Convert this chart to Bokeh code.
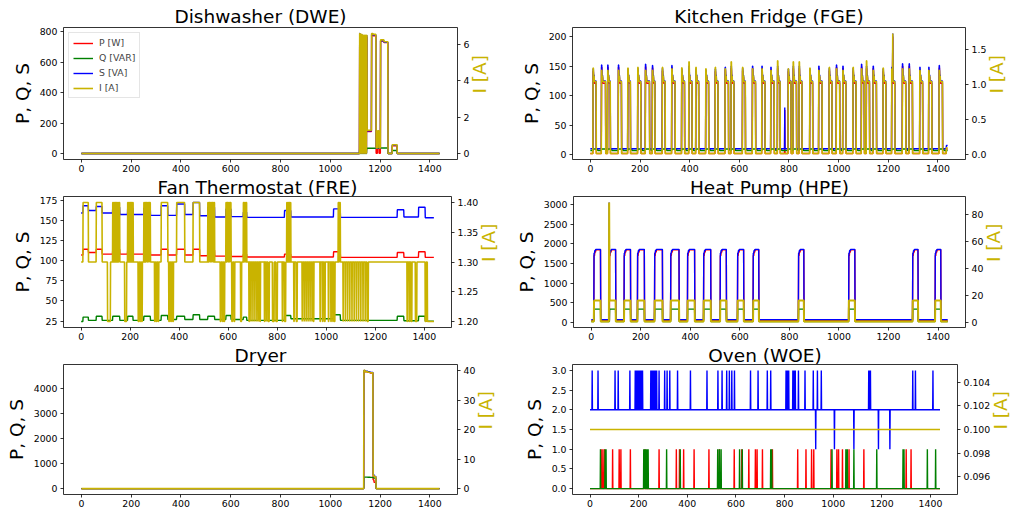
import math
import numpy as np
from bokeh.plotting import figure
from bokeh.models import (Range1d, LinearAxis, FixedTicker, PrintfTickFormatter,
                          Legend, LegendItem)
from bokeh.layouts import column, row
from bokeh.embed import file_html
from bokeh.resources import INLINE

# ------------------------------------------------------------------ data
N_MIN = 1440
MINUTES = np.arange(N_MIN)
X_TICKS = [0, 200, 400, 600, 800, 1000, 1200, 1400]
SERIES_LABELS = ["P [W]", "Q [VAR]", "S [VA]", "I [A]"]

# Dishwasher (DWE): change points
DWE_T = [0, 1118, 1120, 1122, 1124, 1126, 1128, 1130, 1132, 1134, 1136, 1138, 1140,
         1142, 1144, 1146, 1148, 1166, 1172, 1184, 1190, 1196, 1202, 1216, 1232, 1249, 1269]
DWE_P = [0, 775, 2, 770, 2, 770, 2, 765, 2, 765, 2, 765, 2, 765, 2, 765, 145, 780, 775,
         2, 140, 2, 740, 730, 0, 50, 0]
DWE_Q = [0, 30, 0, 30, 0, 30, 0, 30, 0, 30, 0, 30, 0, 30, 0, 30, 35, 35, 35, 35, 35, 35,
         36, 36, 0, 20, 0]
DWE_S = [0, 790, 2, 782, 2, 782, 2, 776, 2, 776, 2, 776, 2, 776, 2, 776, 150, 785, 780,
         35, 145, 35, 742, 732, 0, 55, 0]
DWE_I = [0.0, 6.6, 0.02, 6.55, 0.02, 6.55, 0.02, 6.5, 0.02, 6.5, 0.02, 6.5, 0.02, 6.5,
         0.02, 6.5, 1.28, 6.6, 6.55, 0.3, 1.25, 0.3, 6.25, 6.15, 0.0, 0.48, 0.0]
DWE_LTICKS = [0, 200, 400, 600, 800]
DWE_RTICKS = [0, 2, 4, 6]

# Kitchen Fridge (FGE): compressor cycles
FGE_START = [11, 45, 70, 113, 151, 191, 222, 250, 290, 328, 368, 397, 425, 465, 503, 543,
             567, 613, 653, 691, 727, 754, 797, 817, 841, 884, 920, 962, 991, 1017, 1058,
             1092, 1112, 1139, 1179, 1214, 1257, 1284, 1327, 1363, 1405]
FGE_DUR = [13, 17, 11, 13, 11, 13, 17, 11, 12, 14, 12, 13, 12, 12, 12, 14, 12, 12, 13, 13,
           14, 11, 12, 14, 12, 12, 14, 12, 14, 13, 13, 12, 13, 14, 12, 13, 14, 14, 12, 13, 14]
FGE_S_PEAK = [145, 152, 152, 152, 145, 146, 153, 151, 146, 151, 145, 150, 145, 143, 145,
              148, 150, 146, 150, 150, 148, 150, 145, 150, 150, 145, 150, 146, 152, 150,
              146, 153, 150, 150, 145, 148, 154, 154, 148, 148, 151]
FGE_I_PEAK = [1.23, 1.2, 1.2, 1.2, 1.23, 1.24, 1.2, 1.2, 1.24, 1.22, 1.235, 1.32, 1.24, 1.22,
              1.24, 1.22, 1.32, 1.24, 1.22, 1.22, 1.2, 1.335, 1.22, 1.32, 1.32, 1.23, 1.2,
              1.24, 1.22, 1.2, 1.24, 1.22, 1.335, 1.2, 1.23, 1.22, 1.22, 1.22, 1.2, 1.2, 1.2]
FGE_S_MID = [135, 125]
FGE_P_MID = [131, 121]
FGE_I_MID = [1.12, 1.04]
FGE_OFF = {"P": 2.5, "Q": 7.5, "S": 10.5, "I": 0.02}
FGE_Q_ON = 10.0
FGE_EXTRA_T0 = [783, 1218, 1434]
FGE_EXTRA_T1 = [784, 1219, 1440]
FGE_EXTRA_S = [80, 205, 16]
FGE_EXTRA_P = [76, 200, 10]
FGE_EXTRA_I = [0.02, 1.72, 0.1]
FGE_LTICKS = [0, 50, 100, 150, 200]
FGE_RTICKS = [0.0, 0.5, 1.0, 1.5]

# Fan Thermostat (FRE): change points of P, Q, S
FRE_T = [0, 8, 30, 62, 86, 129, 158, 190, 212, 256, 283, 327, 354, 390, 423, 457, 484, 517,
         545, 591, 612, 662, 676, 830, 856, 1030, 1058, 1290, 1317, 1377, 1404]
FRE_S = [159, 168, 162, 167, 159, 166, 157, 165, 157, 165, 156, 168, 156, 170, 157, 172,
         155.5, 166, 154, 164, 154.5, 160, 153.5, 162, 154, 164, 153.5, 163, 154, 166, 153]
FRE_P = [107, 114, 110, 114, 108, 114, 108, 113, 108, 114, 107, 114, 107, 114, 107, 114,
         106, 113, 105.5, 112, 105, 108, 104.5, 108, 104.5, 111, 104, 110, 104, 111, 104]
FRE_Q = [24.5, 30, 26, 31, 26, 31, 26, 31, 26, 31, 26, 32, 27, 31, 27, 33, 27, 31, 27, 32,
         27, 30, 26, 32, 28, 33, 26, 31, 25.5, 31, 25]
FRE_I_STEPS = [
    (0, 1.3), (8, 1.4), (30, 1.3), (62, 1.4), (86, 1.3), (108, 1.2), (120, 1.3),
    (129, 1.4), (132, 1.3), (134, 1.4), (137, 1.3), (139, 1.4), (142, 1.3), (144, 1.4),
    (147, 1.3), (149, 1.4), (152, 1.3), (154, 1.4), (158, 1.3),
    (178, 1.2), (186, 1.3),
    (190, 1.4), (193, 1.3), (195, 1.4), (198, 1.3), (200, 1.4), (203, 1.3), (205, 1.4),
    (208, 1.3), (210, 1.4), (213, 1.3),
    (233, 1.2), (236, 1.3), (240, 1.2), (243, 1.3), (247, 1.2), (250, 1.3),
    (256, 1.4), (259, 1.3), (261, 1.4), (264, 1.3), (266, 1.4), (270, 1.3), (272, 1.4),
    (276, 1.3), (278, 1.4), (283, 1.3),
    (300, 1.2), (303, 1.3), (307, 1.2), (310, 1.3), (314, 1.2), (317, 1.3),
    (327, 1.4), (354, 1.3),
    (358, 1.2), (361, 1.3), (366, 1.2), (369, 1.3), (374, 1.2), (377, 1.3),
    (390, 1.4), (423, 1.3), (457, 1.4), (484, 1.3),
    (517, 1.4), (520, 1.3), (522, 1.4), (526, 1.3), (528, 1.4), (533, 1.3), (535, 1.4),
    (540, 1.3), (542, 1.4), (545, 1.3),
    (568, 1.2), (571, 1.3), (577, 1.2), (580, 1.3), (583, 1.2), (586, 1.3),
    (591, 1.4), (594, 1.3), (596, 1.4), (600, 1.3), (602, 1.4), (606, 1.3), (608, 1.4), (612, 1.3),
    (615, 1.2), (618, 1.3), (624, 1.2), (627, 1.3), (651, 1.2), (655, 1.3),
    (662, 1.4), (665, 1.3), (667, 1.4), (671, 1.3), (673, 1.4), (676, 1.3),
    (685, 1.2), (687, 1.3), (693, 1.2), (694, 1.3), (701, 1.2), (702, 1.3), (709, 1.2),
    (710, 1.3), (717, 1.2), (718, 1.3), (724, 1.2), (725, 1.3), (730, 1.2), (732, 1.3),
    (748, 1.2), (750, 1.3), (756, 1.2), (757, 1.3), (763, 1.2), (768, 1.3), (781, 1.2),
    (788, 1.3), (795, 1.2), (801, 1.3),
    (821, 1.2), (823, 1.3), (830, 1.2), (835, 1.3),
    (839, 1.4), (842, 1.3), (844, 1.4), (847, 1.3), (849, 1.4), (852, 1.3), (854, 1.4), (856, 1.3),
    (868, 1.2), (870, 1.3), (878, 1.2), (882, 1.3),
    (902, 1.2), (903, 1.3), (910, 1.2), (911, 1.3), (918, 1.2), (919, 1.3), (926, 1.2),
    (927, 1.3), (934, 1.2), (935, 1.3), (942, 1.2), (943, 1.3), (948, 1.2), (950, 1.3),
    (975, 1.2), (977, 1.3), (985, 1.2), (987, 1.3), (993, 1.2), (996, 1.3),
    (1009, 1.2), (1011, 1.3), (1019, 1.2), (1021, 1.3), (1027, 1.2), (1029, 1.3),
    (1033, 1.2), (1036, 1.3),
    (1049, 1.4), (1052, 1.3), (1054, 1.4), (1058, 1.3),
    (1069, 1.2), (1070, 1.3), (1078, 1.2), (1079, 1.3), (1087, 1.2), (1088, 1.3),
    (1096, 1.2), (1097, 1.3), (1105, 1.2), (1106, 1.3), (1114, 1.2), (1115, 1.3),
    (1123, 1.2), (1124, 1.3), (1132, 1.2), (1133, 1.3), (1141, 1.2), (1142, 1.3),
    (1150, 1.2), (1151, 1.3), (1159, 1.2), (1160, 1.3), (1167, 1.2), (1172, 1.3),
    (1330, 1.2), (1332, 1.3), (1339, 1.2), (1341, 1.3), (1347, 1.2), (1350, 1.3),
    (1364, 1.2), (1370, 1.3),
    (1404, 1.2), (1408, 1.3), (1413, 1.2),
]
FRE_LTICKS = [25, 50, 75, 100, 125, 150, 175]
FRE_RTICKS = [1.20, 1.25, 1.30, 1.35, 1.40]

# Heat Pump (HPE): on/off cycles
HPE_ON_T = [11, 74, 133, 187, 256, 321, 389, 454, 521, 591, 654, 837, 1040, 1298, 1389]
HPE_OFF_T = [38, 99, 159, 215, 288, 355, 418, 483, 546, 616, 677, 859, 1065, 1320, 1412]
HPE_S_ON = [1760, 1830, 1860]
HPE_P_ON = [1700, 1790, 1850]
HPE_Q_ON = 335
HPE_I_ON = 16.3
HPE_OFF = {"P": 45, "Q": 19, "S": 68, "I": 0.6}
HPE_SPIKE_T = [72, 73]
HPE_SPIKE_S = [3055, 1650]
HPE_SPIKE_P = [45, 45]
HPE_SPIKE_Q = [19, 19]
HPE_SPIKE_I = [89.3, 48.0]
HPE_LTICKS = [0, 500, 1000, 1500, 2000, 2500, 3000]
HPE_RTICKS = [0, 20, 40, 60, 80]

# Dryer: change points
DRY_T = [0, 1135, 1140, 1150, 1160, 1172, 1176, 1184]
DRY_P = [0, 4700, 4670, 4650, 4620, 350, 250, 0]
DRY_Q = [0, 460, 460, 455, 450, 430, 420, 0]
DRY_S = [0, 4722, 4692, 4672, 4642, 560, 485, 0]
DRY_I = [0.1, 40.0, 39.6, 39.4, 39.2, 4.6, 4.1, 0.1]
DRY_LTICKS = [0, 1000, 2000, 3000, 4000]
DRY_RTICKS = [0, 10, 20, 30, 40]

# Oven (WOE): one-minute spikes
WOE_S_UP = [9, 33, 103, 116, 164, 186, 189, 192, 195, 198, 201, 204, 207, 210, 213, 216,
            250, 253, 256, 259, 262, 266, 270, 274, 284, 307, 317, 328, 360, 413, 481, 526,
            543, 562, 573, 583, 594, 660, 691, 729, 743, 806, 810, 813, 817, 834, 837, 841,
            844, 857, 884, 918, 935, 951, 1146, 1149, 1153, 1327, 1338, 1410]
WOE_S_DOWN = [928, 1005, 1085, 1186, 1233]
WOE_P_UP = [46, 53, 60, 93, 120, 127, 166, 226, 284, 355, 368, 385, 428, 489, 532, 593,
            624, 653, 680, 687, 709, 750, 854, 888, 911, 920, 991, 1015, 1022, 1038, 1065,
            1126, 1300, 1320]
WOE_Q_UP = [43, 62, 66, 221, 224, 226, 230, 234, 239, 315, 371, 525, 532, 539, 615, 626,
            743, 747, 995, 1052, 1058, 1085, 1179, 1287, 1291, 1387, 1421]
WOE_S_LEVELS = [1, 2, 3]      # low, base, high
WOE_PQ_LEVELS = [0, 1]        # base, high
WOE_I_CONST = 0.1
WOE_LTICKS = [0.0, 0.5, 1.0, 1.5, 2.0, 2.5, 3.0]
WOE_RTICKS = [0.096, 0.098, 0.100, 0.102, 0.104]

# ------------------------------------------------------------------ helpers
def from_changes(times, values):
    arr = np.empty(N_MIN)
    for k, t in enumerate(times):
        t_end = times[k + 1] if k + 1 < len(times) else N_MIN
        arr[t:t_end] = values[k]
    return arr


def from_base(base, segments):
    arr = np.full(N_MIN, float(base))
    for t0, t1, v in segments:
        arr[t0:t1] = v
    return arr


# Dishwasher
dwe = [from_changes(DWE_T, v) for v in (DWE_P, DWE_Q, DWE_S, DWE_I)]

# Fridge
seg = {"P": [], "Q": [], "S": [], "I": []}
for s, d, sp, ip in zip(FGE_START, FGE_DUR, FGE_S_PEAK, FGE_I_PEAK):
    seg["Q"].append((s, s + d + 6, FGE_Q_ON))
    seg["S"] += [(s, s + 2, sp), (s + 2, s + 5, FGE_S_MID[0]), (s + 5, s + d, FGE_S_MID[1])]
    seg["P"] += [(s, s + 2, sp - 4), (s + 2, s + 5, FGE_P_MID[0]), (s + 5, s + d, FGE_P_MID[1])]
    seg["I"] += [(s, s + 2, ip), (s + 2, s + 5, FGE_I_MID[0]), (s + 5, s + d, FGE_I_MID[1])]
for t0, t1, sv, pv, iv in zip(FGE_EXTRA_T0, FGE_EXTRA_T1, FGE_EXTRA_S, FGE_EXTRA_P, FGE_EXTRA_I):
    seg["S"].append((t0, t1, sv))
    seg["P"].append((t0, t1, pv))
    seg["I"].append((t0, t1, iv))
fge = [from_base(FGE_OFF[k], seg[k]) for k in ("P", "Q", "S", "I")]

# Fan thermostat
fre_it, fre_iv = zip(*FRE_I_STEPS)
fre = [from_changes(FRE_T, FRE_P), from_changes(FRE_T, FRE_Q),
       from_changes(FRE_T, FRE_S), from_changes(list(fre_it), list(fre_iv))]

# Heat pump
seg = {"P": [], "Q": [], "S": [], "I": []}
for on, off in zip(HPE_ON_T, HPE_OFF_T):
    seg["S"] += [(on, on + 3, HPE_S_ON[0]), (on + 3, on + 7, HPE_S_ON[1]), (on + 7, off, HPE_S_ON[2])]
    seg["P"] += [(on, on + 3, HPE_P_ON[0]), (on + 3, on + 7, HPE_P_ON[1]), (on + 7, off, HPE_P_ON[2])]
    seg["Q"].append((on, off, HPE_Q_ON))
    seg["I"].append((on, off, HPE_I_ON))
for t, sv, pv, qv, iv in zip(HPE_SPIKE_T, HPE_SPIKE_S, HPE_SPIKE_P, HPE_SPIKE_Q, HPE_SPIKE_I):
    seg["S"].append((t, t + 1, sv))
    seg["P"].append((t, t + 1, pv))
    seg["Q"].append((t, t + 1, qv))
    seg["I"].append((t, t + 1, iv))
hpe = [from_base(HPE_OFF[k], seg[k]) for k in ("P", "Q", "S", "I")]

# Dryer
dry = [from_changes(DRY_T, v) for v in (DRY_P, DRY_Q, DRY_S, DRY_I)]

# Oven
woe_P = np.full(N_MIN, float(WOE_PQ_LEVELS[0])); woe_P[WOE_P_UP] = WOE_PQ_LEVELS[1]
woe_Q = np.full(N_MIN, float(WOE_PQ_LEVELS[0])); woe_Q[WOE_Q_UP] = WOE_PQ_LEVELS[1]
woe_S = np.full(N_MIN, float(WOE_S_LEVELS[1]))
woe_S[WOE_S_UP] = WOE_S_LEVELS[2]
woe_S[WOE_S_DOWN] = WOE_S_LEVELS[0]
woe_I = np.full(N_MIN, WOE_I_CONST)
woe = [woe_P, woe_Q, woe_S, woe_I]

# ------------------------------------------------------------------ styling
FONT = "DejaVu Sans"
COLORS = ["#ff0000", "#008000", "#0000ff", "#c9b300"]
LW = 1.4
LW_I = 1.6
TICK_FS = "9.35px"
BIG_FS = "18.5px"


def padded(arrs):
    lo = min(float(a.min()) for a in arrs)
    hi = max(float(a.max()) for a in arrs)
    if hi - lo == 0:
        lo, hi = lo - 0.05 * abs(lo), hi + 0.05 * abs(hi)
    span = hi - lo
    return Range1d(lo - 0.05 * span, hi + 0.05 * span)


def style_axis(ax, ticks, fmt, label=None, color="black", standoff=3, label_standoff=4):
    ax.ticker = FixedTicker(ticks=ticks)
    ax.formatter = PrintfTickFormatter(format=fmt)
    ax.axis_line_color = None
    ax.major_tick_in = 0
    ax.major_tick_out = 3
    ax.minor_tick_in = 0
    ax.minor_tick_out = 0
    ax.major_tick_line_color = "black"
    ax.major_tick_line_width = 0.8
    ax.major_label_text_font = FONT
    ax.major_label_text_font_size = TICK_FS
    ax.major_label_text_color = "black"
    ax.major_label_standoff = standoff
    if label is not None:
        ax.axis_label = label
        ax.axis_label_text_font = FONT
        ax.axis_label_text_font_size = BIG_FS
        ax.axis_label_text_font_style = "normal"
        ax.axis_label_text_color = color
        ax.axis_label_standoff = label_standoff


def panel(title, series, lticks, lfmt, rticks, rfmt, width, height, borders,
          title_standoff, legend=False, lw_i=LW_I):
    bl, br, bt, bb = borders
    xr = Range1d(-0.05 * (N_MIN - 1), 1.05 * (N_MIN - 1))
    yr = padded(series[:3])
    p = figure(width=width, height=height, output_backend="svg", toolbar_location=None,
               x_range=xr, y_range=yr, min_border_left=bl, min_border_right=br,
               min_border_top=bt, min_border_bottom=bb, title=title)
    p.title.align = "center"
    p.title.text_font = FONT
    p.title.text_font_size = BIG_FS
    p.title.text_font_style = "normal"
    p.title.text_color = "black"
    p.title.standoff = title_standoff
    p.extra_y_ranges = {"cur": padded(series[3:])}
    p.grid.visible = False
    p.outline_line_color = "black"
    p.outline_line_width = 0.8
    p.background_fill_color = "white"
    p.border_fill_color = "white"
    rends = []
    for k in range(3):
        rends.append(p.line(MINUTES, series[k], line_color=COLORS[k], line_width=LW))
    rends.append(p.line(MINUTES, series[3], line_color=COLORS[3], line_width=lw_i,
                        y_range_name="cur"))
    style_axis(p.below[0], X_TICKS, "%d", standoff=2)
    style_axis(p.left[0], lticks, lfmt, "P, Q, S")
    rax = LinearAxis(y_range_name="cur")
    style_axis(rax, rticks, rfmt, "I [A]", COLORS[3], label_standoff=7)
    rax.axis_label_orientation = math.pi / 2
    p.add_layout(rax, "right")
    if legend:
        lg = Legend(items=[LegendItem(label=lab, renderers=[r])
                           for lab, r in zip(SERIES_LABELS, rends)],
                    location="top_left")
        lg.label_text_font = FONT
        lg.label_text_font_size = TICK_FS
        lg.glyph_width = 20
        lg.glyph_height = 10
        lg.label_height = 10
        lg.spacing = 4
        lg.padding = 4
        lg.margin = 5
        lg.label_standoff = 6
        lg.border_line_color = "#cccccc"
        lg.background_fill_alpha = 0.8
        p.add_layout(lg)
    return p


WL, WR = 512, 512
BL = (63, 55)
BR = (60, 59)
p1 = panel("Dishwasher (DWE)", dwe, DWE_LTICKS, "%d", DWE_RTICKS, "%d", WL, 175, BL + (27, 16), 1, legend=True)
p2 = panel("Kitchen Fridge (FGE)", fge, FGE_LTICKS, "%d", FGE_RTICKS, "%.1f", WR, 175, BR + (27, 16), 1)
p3 = panel("Fan Thermostat (FRE)", fre, FRE_LTICKS, "%d", FRE_RTICKS, "%.2f", WL, 168, BL + (18, 16), -2)
p4 = panel("Heat Pump (HPE)", hpe, HPE_LTICKS, "%d", HPE_RTICKS, "%d", WR, 168, BR + (18, 16), -2, lw_i=2.0)
p5 = panel("Dryer", dry, DRY_LTICKS, "%d", DRY_RTICKS, "%d", WL, 173, BL + (18, 22), -2)
p6 = panel("Oven (WOE)", woe, WOE_LTICKS, "%.1f", WOE_RTICKS, "%.3f", WR, 173, BR + (18, 22), -2)

layout = column(row(p1, p2, spacing=0), row(p3, p4, spacing=0), row(p5, p6, spacing=0), spacing=0)

open("out.html", "w").write(file_html(layout, INLINE))
